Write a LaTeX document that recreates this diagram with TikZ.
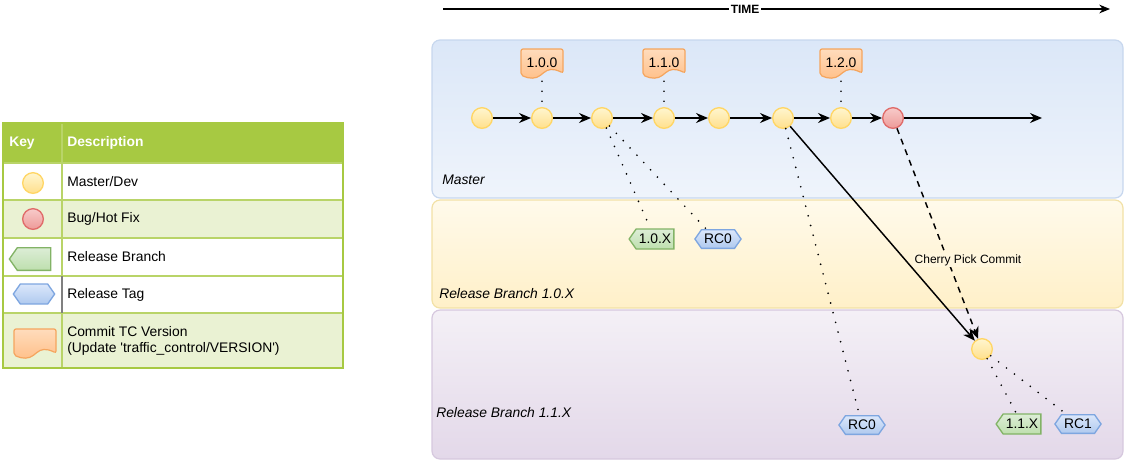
\documentclass[tikz,border=0pt]{standalone}
\usepackage{fontspec}
\setmainfont{Liberation Sans}
\usetikzlibrary{arrows.meta,shapes.symbols}

\definecolor{laneblue}{HTML}{DBE7F8}
\definecolor{laneblue2}{HTML}{EFF4FB}
\definecolor{laneblueline}{HTML}{C7D7EE}
\definecolor{laneyel}{HTML}{FFFAEB}
\definecolor{laneyel2}{HTML}{FFF0C8}
\definecolor{laneyelline}{HTML}{F2E1A6}
\definecolor{lanepur}{HTML}{F4F0F6}
\definecolor{lanepur2}{HTML}{E3D8E9}
\definecolor{lanepurline}{HTML}{D6C8DE}
\definecolor{cmttop}{HTML}{FFF5CF}
\definecolor{cmtbot}{HTML}{FFE08C}
\definecolor{cmtline}{HTML}{FFD666}
\definecolor{fixtop}{HTML}{F7CBCA}
\definecolor{fixbot}{HTML}{EE9A98}
\definecolor{fixline}{HTML}{E06C6A}
\definecolor{brtop}{HTML}{DCEDD6}
\definecolor{brbot}{HTML}{BEDFAE}
\definecolor{brline}{HTML}{82B366}
\definecolor{reltop}{HTML}{DBE7FB}
\definecolor{relbot}{HTML}{AFC9EE}
\definecolor{relline}{HTML}{7EA6E0}
\definecolor{doctop}{HTML}{FFDCBC}
\definecolor{docbot}{HTML}{FFC08A}
\definecolor{docline}{HTML}{F5A55E}
\definecolor{keyhead}{HTML}{A7C942}
\definecolor{keyrow}{HTML}{EAF2D3}

\begin{document}
\begin{tikzpicture}[
  x = 0.75pt, y = -0.75pt,
  every node/.style = {font = \fontsize{10.4}{12.5}\selectfont, inner sep = 0pt},
  lane/.style = {rounded corners = 6pt, line width = 0.9pt},
  lanelbl/.style = {anchor = west, font = \fontsize{10.4}{12.5}\selectfont\itshape},
  commit/.style = {circle, minimum size = 15.5pt, line width = 1pt, draw = cmtline,
                   top color = cmttop, bottom color = cmtbot},
  hotfix/.style = {commit, draw = fixline, top color = fixtop, bottom color = fixbot},
  branchtag/.style = {signal, signal to = west, signal pointer angle = 110,
                      minimum height = 15pt, inner xsep = 2pt, line width = 1pt,
                      draw = brline, top color = brtop, bottom color = brbot},
  reltag/.style = {signal, signal to = west and east, signal pointer angle = 110,
                   minimum height = 14pt, inner xsep = 2pt, line width = 1pt,
                   draw = relline, top color = reltop, bottom color = relbot},
  verdoc/.style = {line width = 0.9pt, draw = docline, top color = doctop,
                   bottom color = docbot, rounded corners = 1.5pt},
  docbox/.style = {minimum width = 31.5pt, minimum height = 21pt},
  flow/.style = {line width = 1.1pt, -{Stealth[length = 9pt, width = 7.5pt, inset = 3pt]}},
  cherry/.style = {flow, dash pattern = on 4.5pt off 4pt},
  dotline/.style = {line width = 1.4pt, line cap = round, dash pattern = on 0pt off 7.5pt},
  keygrid/.style = {draw = keyhead!80, line width = 0.9pt},
  keytext/.style = {anchor = west, align = left},
  ]
  \useasboundingbox (0,0) rectangle (1124,462);

  % time line
  \coordinate (t0) at (443,9);
  \coordinate (t1) at (1110,9);
  \draw[line width = 1.1pt, -{Stealth[length = 8pt, width = 6.5pt, inset = 2.5pt]}] (t0) --
    node[pos = 0.453, fill = white, inner xsep = 1pt,
         font = \bfseries\fontsize{9}{10}\selectfont] (tlbl) {TIME} (t1);

  % lanes
  \draw[lane, draw = laneblueline, top color = laneblue, bottom color = laneblue2]
    (432,40) rectangle (1123,198);
  \draw[lane, draw = laneyelline, top color = laneyel, bottom color = laneyel2]
    (432,200) rectangle (1123,308);
  \draw[lane, draw = lanepurline, top color = lanepur, bottom color = lanepur2]
    (432,310) rectangle (1123,459);
  \node[lanelbl] (mlbl) at (442,180) {Master};
  \node[lanelbl] (rlbl10) at (439,294) {Release Branch 1.0.X};
  \node[lanelbl] (rlbl11) at (436,413) {Release Branch 1.1.X};

  % key
  \fill[keyhead] (3,123) rectangle (343,163);
  \fill[keyrow] (3,200) rectangle (343,238);
  \fill[keyrow] (3,313) rectangle (343,368);
  \foreach \y in {163,200,238,276,313}
    \draw[keygrid] (3,\y) -- (343,\y);
  \draw[keygrid] (62,123) -- (62,368);
  \draw[draw = gray, line width = 0.9pt] (3,276) -- (3,313) (62,276) -- (62,313);
  \draw[keygrid, draw = keyhead, line width = 1.3pt] (3,123) rectangle (343,368);
  \node[keytext, text = white, font = \bfseries\fontsize{10.4}{12.5}\selectfont] (keyh) at (9,143) {Key};
  \node[keytext, text = white, font = \bfseries\fontsize{10.4}{12.5}\selectfont] (desch) at (67,143) {Description};
  \node[commit] (key1) at (33,183) {};
  \node[hotfix] (key2) at (33,219) {};
  \node[branchtag, minimum width = 31pt, minimum height = 17pt] (key3) at (34,259) {};
  \node[reltag, minimum width = 31pt, minimum height = 15pt] (key4) at (34,294) {};
  \node[keytext] (desc1) at (67,182) {Master/Dev};
  \node[keytext] (desc2) at (67,219) {Bug/Hot Fix};
  \node[keytext] (desc3) at (67,257) {Release Branch};
  \node[keytext] (desc4) at (67,295) {Release Tag};
  \node[keytext] (desc5) at (67,341) {Commit TC Version\\(Update \textquotesingle traffic\_control/VERSION\textquotesingle)};

  % version documents
  \foreach \n/\x/\y/\v in {v100/542/63/1.0.0, v110/664/63/1.1.0, v120/841/63/1.2.0, key5/35/343/{}} {
    \draw[verdoc] (\x-21,\y-14) -- (\x+21,\y-14) -- (\x+21,\y+10)
      .. controls (\x+11,\y+5) and (\x+6,\y+6) .. (\x,\y+11)
      .. controls (\x-6,\y+16) and (\x-13,\y+16) .. (\x-21,\y+12) -- cycle;
    \node[docbox] (\n) at (\x,\y) {\v};
  }

  % master commits
  \foreach \i/\x in {1/482,2/542,3/602,4/664,5/719,6/783,7/841}
    \node[commit] (c\i) at (\x,118) {};
  \node[hotfix] (c8) at (893,118) {};
  \coordinate (mend) at (1042,118);
  \foreach \a/\b in {1/2,2/3,3/4,4/5,5/6,6/7,7/8}
    \draw[flow] (c\a) -- (c\b);
  \draw[flow] (c8) -- (mend);

  % release branches
  \node[branchtag] (br10) at (655,239) {1.0.X};
  \node[reltag] (rc10) at (718,239) {RC0};
  \node[commit] (d1) at (982,349) {};
  \node[reltag] (rc11) at (862,425) {RC0};
  \node[branchtag] (br11) at (1022,424) {1.1.X};
  \node[reltag] (rc12) at (1078,424) {RC1};

  % links
  \draw[dotline, shorten < = 3pt, shorten > = 2pt] (v100) -- (c2);
  \draw[dotline, shorten < = 3pt, shorten > = 2pt] (v110) -- (c4);
  \draw[dotline, shorten < = 3pt, shorten > = 2pt] (v120) -- (c7);
  \draw[dotline] (c3) -- (br10);
  \draw[dotline] (c3) -- (rc10.140);
  \draw[dotline] (c6) -- (rc11);
  \draw[dotline] (d1) -- (br11);
  \draw[dotline] (d1) -- (rc12.140);
  \draw[flow] (c6) -- (d1);
  \draw[cherry] (c8) -- (d1);
  \node[fill = laneyel!60!laneyel2, inner sep = 1pt, font = \fontsize{9}{11}\selectfont]
    (cpick) at (968,260) {Cherry Pick Commit};
\end{tikzpicture}
\end{document}
